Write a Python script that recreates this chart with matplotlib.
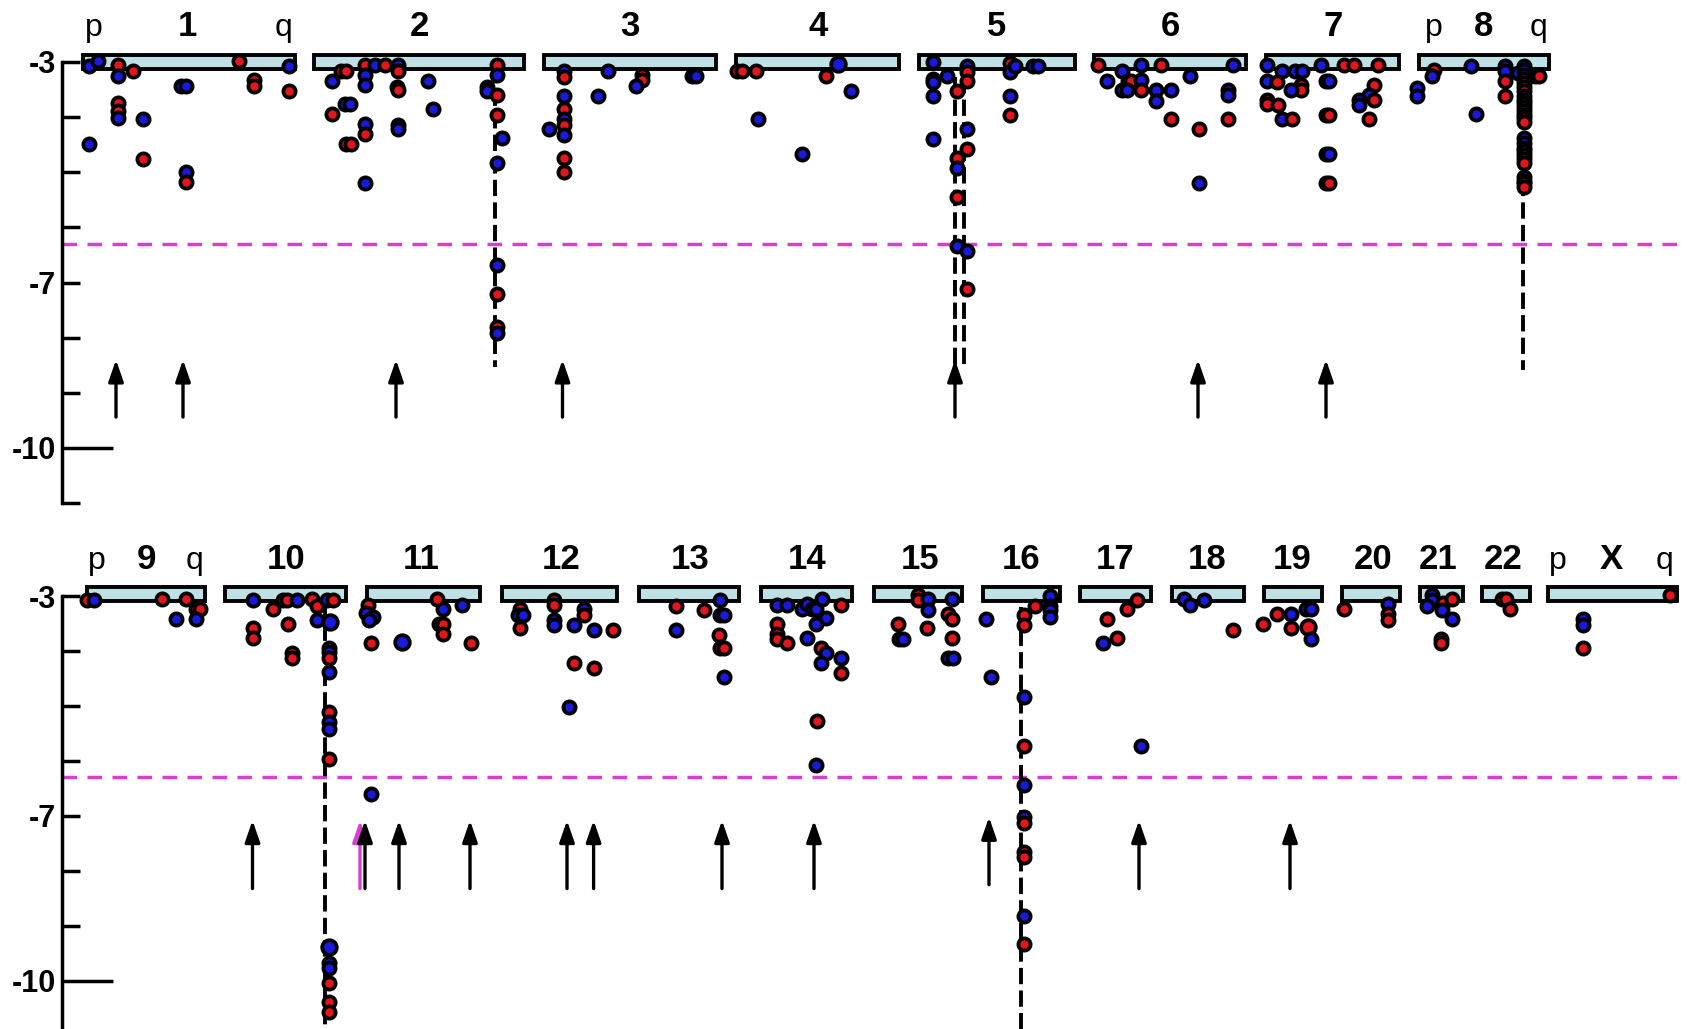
import matplotlib
matplotlib.use("Agg")
import matplotlib.pyplot as plt
from matplotlib.patches import Rectangle

plt.rcParams['font.family'] = ['Liberation Sans', 'DejaVu Sans']

RED = '#e3161c'
BLUE = '#1a1ade'
BAND = '#bfe0e5'
PINK = '#d83fd0'
THRESHOLD = -6.3

# ---- top row: chromosomes 1-8 -------------------------------------------
# (name, start, end, label x) ; positions along the row
top_chroms = [("1", 83, 295, 187), ("2", 314, 524, 419), ("3", 544, 716, 630),
              ("4", 736, 899, 818), ("5", 919, 1075, 997), ("6", 1094, 1246, 1170),
              ("7", 1266, 1399, 1333), ("8", 1419, 1549, 1484)]
top_pq = [("p", 94), ("q", 284), ("p", 1434), ("q", 1539)]

# points: (position, log10 p, colour)  r/b small, R/B large
pts_1 = [(89, -3.07, 'b'), (98, -2.98, 'b'), (118, -3.05, 'r'), (118, -3.25, 'b'),
         (133, -3.16, 'r'), (118, -3.75, 'r'), (118, -3.88, 'r'), (118, -4.02, 'b'),
         (143, -4.04, 'b'), (89, -4.48, 'b'), (143, -4.76, 'r'), (181, -3.44, 'b'),
         (186, -3.44, 'b'), (186, -5.0, 'b'), (186, -5.18, 'r'), (239, -2.99, 'r'),
         (254, -3.33, 'r'), (254, -3.44, 'r'), (289, -3.07, 'b'), (289, -3.52, 'r')]
pts_2 = [(341, -3.16, 'r'), (346, -3.16, 'r'), (332, -3.34, 'b'), (345, -3.76, 'b'),
         (350, -3.76, 'b'), (332, -3.94, 'r'), (346, -4.49, 'r'), (351, -4.49, 'r'),
         (365, -3.05, 'r'), (365, -3.24, 'b'), (365, -3.42, 'b'), (365, -4.12, 'b'),
         (365, -4.31, 'r'), (365, -5.19, 'b'), (375, -3.05, 'b'), (385, -3.05, 'r'),
         (398, -3.05, 'b'), (398, -3.16, 'r'), (397, -3.45, 'r'), (398, -3.51, 'r'),
         (398, -4.14, 'b'), (398, -4.22, 'b'), (428, -3.34, 'b'), (433, -3.86, 'b'),
         (487, -3.45, 'b'), (487, -3.52, 'b'), (497, -3.05, 'r'), (497, -3.24, 'b'),
         (497, -3.6, 'r'), (497, -3.96, 'r'), (502, -4.38, 'b'), (497, -4.83, 'b'),
         (497, -6.69, 'b'), (497, -7.21, 'r'), (497, -7.80, 'r'), (497, -7.92, 'b')]
pts_3 = [(549, -4.22, 'b'), (564, -3.16, 'b'), (564, -3.28, 'r'), (564, -3.62, 'b'),
         (564, -3.86, 'r'), (564, -4.04, 'b'), (564, -4.14, 'r'), (564, -4.32, 'b'),
         (564, -4.75, 'r'), (564, -5.0, 'r'), (608, -3.16, 'b'), (598, -3.61, 'b'),
         (642, -3.24, 'r'), (642, -3.33, 'r'), (636, -3.44, 'b'), (692, -3.25, 'b'),
         (696, -3.25, 'b')]
pts_4 = [(737, -3.16, 'r'), (742, -3.16, 'r'), (756, -3.16, 'r'), (838, -3.04, 'B'),
         (826, -3.25, 'r'), (851, -3.52, 'b'), (758, -4.04, 'b'), (802, -4.66, 'b')]
pts_5 = [(933, -3.0, 'b'), (933, -3.3, 'b'), (933, -3.36, 'b'), (933, -3.62, 'b'),
         (933, -4.40, 'b'), (947, -3.25, 'b'), (957, -3.52, 'r'), (957, -4.75, 'r'),
         (957, -4.93, 'b'), (957, -5.45, 'r'), (957, -6.34, 'b'), (967, -3.07, 'b'),
         (967, -3.19, 'r'), (967, -3.34, 'r'), (967, -4.22, 'b'), (967, -4.58, 'r'),
         (967, -6.42, 'b'), (967, -7.12, 'r'), (1010, -3.01, 'r'), (1010, -3.18, 'b'),
         (1015, -3.07, 'b'), (1033, -3.07, 'b'), (1038, -3.07, 'b'), (1010, -3.61, 'b'),
         (1010, -3.96, 'r')]
pts_6 = [(1098, -3.05, 'r'), (1107, -3.34, 'b'), (1122, -3.16, 'b'), (1128, -3.34, 'r'),
         (1131, -3.34, 'r'), (1122, -3.51, 'b'), (1127, -3.51, 'b'), (1141, -3.05, 'b'),
         (1141, -3.33, 'b'), (1141, -3.51, 'r'), (1161, -3.05, 'r'), (1156, -3.51, 'b'),
         (1156, -3.70, 'b'), (1171, -3.51, 'b'), (1171, -4.04, 'r'), (1190, -3.25, 'b'),
         (1199, -4.22, 'r'), (1199, -5.19, 'b'), (1233, -3.05, 'b'), (1228, -3.51, 'b'),
         (1228, -3.6, 'b'), (1228, -4.04, 'r')]
pts_7 = [(1267, -3.05, 'b'), (1267, -3.34, 'b'), (1267, -3.69, 'r'), (1267, -3.76, 'r'),
         (1278, -3.78, 'r'), (1282, -3.16, 'b'), (1277, -3.36, 'r'), (1295, -3.16, 'b'),
         (1302, -3.16, 'b'), (1301, -3.42, 'r'), (1301, -3.51, 'r'), (1291, -3.51, 'b'),
         (1282, -4.04, 'b'), (1292, -4.04, 'r'), (1321, -3.05, 'b'), (1326, -3.34, 'b'),
         (1329, -3.34, 'b'), (1326, -3.96, 'r'), (1329, -3.96, 'r'), (1326, -4.66, 'b'),
         (1329, -4.66, 'b'), (1326, -5.19, 'r'), (1329, -5.19, 'r'), (1344, -3.05, 'r'),
         (1354, -3.05, 'r'), (1378, -3.05, 'r'), (1374, -3.42, 'r'), (1369, -3.6, 'b'),
         (1374, -3.69, 'r'), (1359, -3.69, 'b'), (1359, -3.78, 'b'), (1369, -4.04, 'r')]
pts_8 = [(1417, -3.48, 'b'), (1417, -3.62, 'b'), (1434, -3.15, 'r'), (1432, -3.25, 'b'),
         (1471, -3.07, 'b'), (1505, -3.08, 'b'), (1505, -3.16, 'b'), (1505, -3.34, 'r'),
         (1505, -3.62, 'r'), (1476, -3.94, 'b'), (1535, -3.25, 'r'), (1539, -3.25, 'r'),
         (1518, -3.2, 'b'),
         (1524, -3.07, 'b'), (1524, -3.15, 'b'), (1524, -3.24, 'b'), (1524, -3.30, 'r'),
         (1524, -3.38, 'r'), (1524, -3.45, 'r'), (1524, -3.53, 'r'), (1524, -3.61, 'b'),
         (1524, -3.69, 'b'), (1524, -3.75, 'b'), (1524, -3.82, 'b'), (1524, -3.89, 'r'),
         (1524, -3.96, 'r'), (1524, -4.02, 'r'), (1524, -4.09, 'r'), (1524, -4.38, 'b'),
         (1524, -4.47, 'b'), (1524, -4.56, 'b'), (1524, -4.62, 'b'), (1524, -4.69, 'r'),
         (1524, -4.76, 'r'), (1524, -4.83, 'r'), (1524, -5.09, 'b'), (1524, -5.15, 'b'),
         (1524, -5.20, 'r'), (1524, -5.27, 'r')]
top_points = [pts_1, pts_2, pts_3, pts_4, pts_5, pts_6, pts_7, pts_8]

# dashed lines: (position, top, bottom)
top_dashes = [(494.6, -3.1, -8.53), (955, -3.27, -8.58), (963.6, -3.27, -8.58),
              (1523, -3.1, -8.58)]
# arrows: (position, tip, tail, colour)
top_arrows = [(116, -8.40, -9.44, 'k'), (183, -8.40, -9.44, 'k'), (396, -8.40, -9.44, 'k'),
              (562.5, -8.40, -9.44, 'k'), (955, -8.40, -9.44, 'k'), (1198, -8.40, -9.44, 'k'),
              (1326, -8.40, -9.44, 'k')]

# ---- bottom row: chromosomes 9-22, X -------------------------------------
bot_chroms = [("9", 87, 205, 146), ("10", 225, 346, 286), ("11", 367, 480, 421),
              ("12", 502, 617, 561), ("13", 639, 739, 690), ("14", 761, 852, 807),
              ("15", 874, 962, 920), ("16", 983, 1060, 1021), ("17", 1080, 1151, 1115),
              ("18", 1172, 1244, 1207), ("19", 1264, 1322, 1292), ("20", 1342, 1400, 1373),
              ("21", 1420, 1463, 1438), ("22", 1482, 1530, 1503), ("X", 1548, 1677, 1611)]
bot_pq = [("p", 97), ("q", 195), ("p", 1558), ("q", 1665)]

pts_9 = [(87.5, -3.07, 'r'), (93.6, -3.07, 'b'), (162, -3.06, 'r'), (186, -3.06, 'r'),
         (196, -3.24, 'r'), (200, -3.24, 'r'), (176, -3.42, 'b'), (196, -3.42, 'b')]
pts_10 = [(253, -3.07, 'b'), (273, -3.24, 'r'), (283, -3.07, 'r'), (287, -3.07, 'r'),
          (297, -3.07, 'b'), (312, -3.05, 'r'), (317, -3.18, 'r'), (327, -3.07, 'b'),
          (333, -3.07, 'r'), (317, -3.44, 'b'), (330, -3.47, 'B'), (253, -3.58, 'r'),
          (253, -3.76, 'r'), (288, -3.51, 'r'), (292, -4.04, 'r'), (292, -4.13, 'r'),
          (329, -3.94, 'r'), (329, -4.02, 'b'), (329, -4.13, 'r'), (329, -4.38, 'b'),
          (329, -5.10, 'r'), (329, -5.29, 'b'), (329, -5.42, 'b'), (329, -5.97, 'r'),
          (329, -9.38, 'B'), (329, -9.68, 'b'), (329, -9.77, 'b'), (329, -10.04, 'r'),
          (329, -10.39, 'r'), (329, -10.56, 'r')]
pts_11 = [(368, -3.16, 'r'), (366, -3.30, 'b'), (373, -3.38, 'b'), (369, -3.44, 'b'),
          (371, -3.86, 'r'), (402, -3.83, 'B'), (437.5, -3.06, 'r'), (443, -3.24, 'b'),
          (439, -3.51, 'r'), (443, -3.51, 'r'), (443, -3.69, 'r'), (462.5, -3.16, 'b'),
          (471, -3.86, 'r'), (371, -6.6, 'b')]
pts_12 = [(520, -3.24, 'r'), (518, -3.35, 'b'), (523, -3.35, 'b'), (520, -3.59, 'r'),
          (554, -3.07, 'r'), (554, -3.16, 'r'), (554, -3.44, 'b'), (554, -3.53, 'b'),
          (574, -3.52, 'b'), (583.6, -3.24, 'b'), (583.6, -3.35, 'r'), (593.6, -3.61, 'b'),
          (613, -3.61, 'r'), (574, -4.21, 'r'), (593.6, -4.30, 'r'), (569, -5.01, 'b')]
pts_13 = [(676, -3.18, 'r'), (676, -3.61, 'b'), (704, -3.25, 'r'), (720, -3.07, 'b'),
          (720, -3.35, 'b'), (724, -3.35, 'b'), (718.6, -3.70, 'r'), (720, -3.95, 'r'),
          (724, -3.95, 'r'), (724, -4.48, 'b')]
pts_14 = [(777, -3.16, 'b'), (787, -3.16, 'b'), (802, -3.24, 'b'), (807, -3.15, 'b'),
          (812, -3.24, 'b'), (816, -3.24, 'b'), (822, -3.05, 'b'), (841, -3.16, 'r'),
          (826, -3.40, 'b'), (816, -3.51, 'b'), (777, -3.51, 'r'), (777, -3.69, 'r'),
          (777, -3.78, 'r'), (787, -3.86, 'r'), (807, -3.77, 'b'), (821, -3.95, 'r'),
          (826, -4.04, 'b'), (821, -4.22, 'b'), (841, -4.13, 'b'), (841, -4.40, 'r'),
          (817, -5.27, 'r'), (816, -6.07, 'b')]
pts_15 = [(918, -2.98, 'r'), (918, -3.07, 'r'), (928, -3.05, 'b'), (928, -3.25, 'b'),
          (952, -3.05, 'b'), (948, -3.33, 'r'), (952, -3.41, 'r'), (898, -3.51, 'r'),
          (899, -3.78, 'b'), (903, -3.78, 'b'), (927, -3.58, 'r'), (952, -3.76, 'r'),
          (948, -4.13, 'b'), (953, -4.13, 'b')]
pts_16 = [(986, -3.42, 'b'), (991, -4.48, 'b'), (1050, -3.0, 'b'), (1050, -3.18, 'b'),
          (1050, -3.25, 'b'), (1050, -3.38, 'b'), (1034.6, -3.18, 'r'), (1024, -3.35, 'r'),
          (1024, -3.53, 'r'), (1024, -4.83, 'b'), (1024, -5.73, 'r'), (1024, -6.44, 'b'),
          (1024, -7.02, 'b'), (1024, -7.13, 'r'), (1024, -7.66, 'r'), (1024, -7.74, 'r'),
          (1024, -8.82, 'b'), (1024, -9.33, 'r')]
pts_17 = [(1137, -3.07, 'r'), (1127, -3.24, 'r'), (1107.5, -3.42, 'r'), (1117, -3.77, 'r'),
          (1103, -3.86, 'b'), (1141, -5.73, 'b')]
pts_18 = [(1184.5, -3.06, 'b'), (1190, -3.16, 'b'), (1204, -3.07, 'b'), (1233, -3.61, 'r')]
pts_19 = [(1263, -3.51, 'r'), (1277, -3.33, 'r'), (1291, -3.33, 'b'), (1291, -3.58, 'r'),
          (1306, -3.24, 'b'), (1311, -3.24, 'b'), (1308, -3.56, 'R'), (1311, -3.78, 'b')]
pts_20 = [(1344, -3.24, 'r'), (1388, -3.15, 'b'), (1388, -3.33, 'r'), (1388, -3.44, 'r')]
pts_21 = [(1432, -2.98, 'b'), (1432, -3.07, 'b'), (1427, -3.18, 'b'), (1443, -3.13, 'r'),
          (1452, -3.05, 'r'), (1442, -3.25, 'b'), (1452, -3.42, 'b'), (1441, -3.78, 'r'),
          (1441, -3.86, 'r')]
pts_22 = [(1502, -3.05, 'r'), (1506, -3.05, 'r'), (1510, -3.24, 'r')]
pts_x = [(1583, -3.42, 'b'), (1583, -3.53, 'b'), (1583, -3.95, 'r'), (1670, -2.98, 'r')]
bot_points = [pts_9, pts_10, pts_11, pts_12, pts_13, pts_14, pts_15, pts_16, pts_17,
              pts_18, pts_19, pts_20, pts_21, pts_22, pts_x]

bot_dashes = [(325, -3.1, -10.9), (1021.4, -3.2, -10.9)]
bot_arrows = [(252.5, -7.08, -8.32, 'k'), (360, -7.08, -8.32, 'm'), (365, -7.08, -8.32, 'k'),
              (399, -7.08, -8.32, 'k'), (470, -7.08, -8.32, 'k'), (567, -7.08, -8.32, 'k'),
              (593.6, -7.08, -8.32, 'k'), (722, -7.08, -8.32, 'k'), (814, -7.08, -8.32, 'k'),
              (989, -7.02, -8.25, 'k'), (1139, -7.08, -8.32, 'k'), (1290, -7.08, -8.32, 'k')]

W, H = 1689, 1029
fig = plt.figure(figsize=(W / 100, H / 100), dpi=100)
ax_top = fig.add_axes([0, (H - 520) / H, 1, 520 / H])
ax_bot = fig.add_axes([0, 0, 1, 509 / H])


def draw_panel(ax, chroms, pq, points, dashes, arrows, ylim, band, label_y, spine_lo, ticks_minor):
    ax.set_xlim(0, W)
    ax.set_ylim(*ylim)
    ax.patch.set_alpha(0)
    for s in ['top', 'right', 'bottom']:
        ax.spines[s].set_visible(False)
    ax.spines['left'].set_position(('data', 62.5))
    ax.spines['left'].set_linewidth(2.5)
    ax.spines['left'].set_bounds(spine_lo, -3)
    ax.set_xticks([])
    ax.set_yticks([-3, -7, -10])
    ax.set_yticklabels(['-3', '-7', '-10'], fontsize=22, fontweight='bold')
    ax.set_yticks(ticks_minor, minor=True)
    ax.tick_params(axis='y', which='both', direction='in', length=13, width=2.5, pad=5)
    ax.yaxis.get_major_ticks()[2].tick1line.set_markersize(37)

    for name, x0, x1, lx in chroms:
        ax.add_patch(Rectangle((x0, band[0]), x1 - x0, band[1] - band[0], facecolor=BAND,
                               edgecolor='black', linewidth=2.8, zorder=2))
        ax.text(lx, label_y, name, ha='center', va='baseline', fontsize=25, fontweight='bold')
    for name, lx in pq:
        ax.text(lx, label_y, name, ha='center', va='baseline', fontsize=23)

    ax.plot([62.5, 1680], [THRESHOLD, THRESHOLD], color=PINK, lw=2.5,
            ls=(0, (4.2, 3.0)), zorder=1)

    for x, y0, y1 in dashes:
        ax.plot([x, x], [y0, y1], color='black', lw=2.8, ls=(0, (4.2, 1.6)), zorder=2.5)

    for x, tip, tail, c in arrows:
        col = PINK if c == 'm' else 'black'
        ax.annotate('', xy=(x, tip), xytext=(x, tail),
                    arrowprops=dict(arrowstyle='-|>,head_length=1.3,head_width=0.45',
                                    color=col, lw=2.4, shrinkA=0, shrinkB=0,
                                    mutation_scale=10), zorder=2.6)

    for chrom in points:
        for x, y, c in chrom:
            face = RED if c in 'rR' else BLUE
            ms = 10.5 if c.isupper() else 8.8
            ax.plot(x, y, 'o', ms=ms, mfc=face, mec='black', mew=2.7, zorder=3)


draw_panel(ax_top, top_chroms, top_pq, top_points, top_dashes, top_arrows,
           (-11.306, -1.876), (-3.13, -2.87), -2.53, -11, [-4, -5, -6, -8, -9, -11])
draw_panel(ax_bot, bot_chroms, bot_pq, bot_points, bot_dashes, bot_arrows,
           (-10.873, -1.618), (-3.09, -2.83), -2.51, -10.873, [-4, -5, -6, -8, -9])

fig.savefig('out.png', dpi=100)
